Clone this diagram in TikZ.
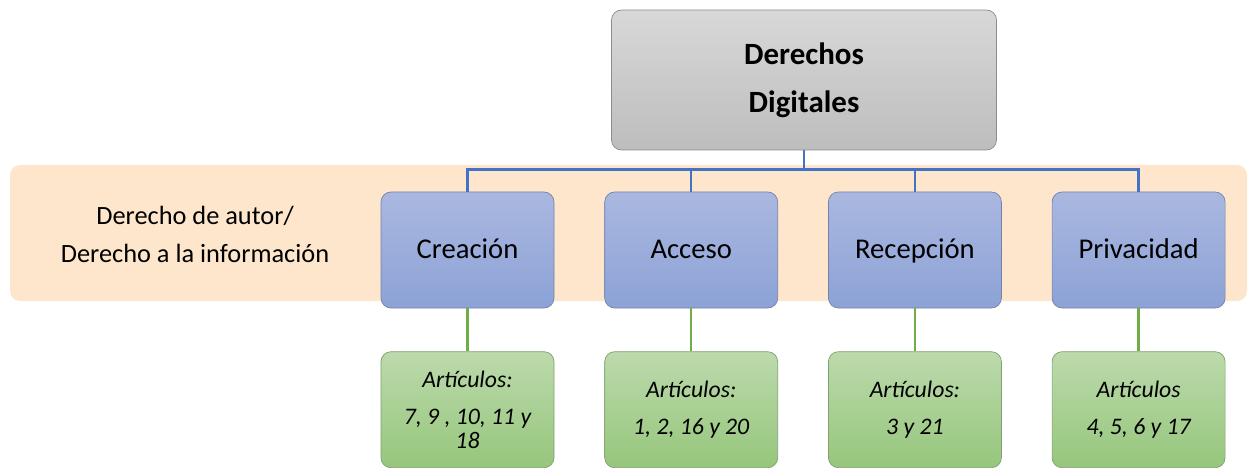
\documentclass[tikz,border=0pt]{standalone}
\usepackage{fontspec}
\setmainfont{Carlito}
\usetikzlibrary{positioning}
\definecolor{bandfill}{RGB}{253,230,204}
\definecolor{graytop}{RGB}{216,216,216}
\definecolor{graybot}{RGB}{189,189,189}
\definecolor{grayedge}{RGB}{140,140,140}
\definecolor{bluetop}{RGB}{170,184,224}
\definecolor{bluebot}{RGB}{140,162,214}
\definecolor{blueedge}{RGB}{118,128,168}
\definecolor{greentop}{RGB}{188,218,172}
\definecolor{greenbot}{RGB}{150,198,124}
\definecolor{greenedge}{RGB}{128,160,110}
\definecolor{busline}{RGB}{68,114,196}
\definecolor{artline}{RGB}{112,173,71}
\tikzset{
  raiz/.style={rectangle, rounded corners=0.2cm, minimum width=7.7cm, minimum height=2.8cm, align=center, draw=grayedge, top color=graytop, bottom color=graybot, font=\bfseries\fontsize{17.6}{27.3}\selectfont},
  area/.style={rectangle, rounded corners=0.2cm, minimum width=3.46cm, minimum height=2.32cm, text height=1.25em, text depth=0.25em, draw=blueedge, top color=bluetop, bottom color=bluebot, font=\fontsize{16.3}{20}\selectfont},
  art/.style={rectangle, rounded corners=0.2cm, minimum width=3.46cm, minimum height=2.32cm, align=center, draw=greenedge, top color=greentop, bottom color=greenbot, font=\itshape\fontsize{13.5}{21}\selectfont},
  bus/.style={color=busline, line width=1.4pt},
  rama/.style={color=artline, line width=1.4pt},
  node distance=1.0cm
}
\begin{document}
\begin{tikzpicture}
	\useasboundingbox (0,0) rectangle (24.98,-9.36);
	% franja de fondo
	\fill[bandfill, rounded corners=0.2cm] (0.2,-3.3) rectangle (24.94,-6.02);
	\node[align=center, font=\fontsize{15}{21.6}\selectfont] (autor) at (3.9,-4.68) {Derecho de autor/\\Derecho a la información};
	%
	\node[raiz] (dd) at (16.08,-1.6) {Derechos\\Digitales};
	\node[area] (crea) at (9.35,-5.0) {Creación};
	\node[area, right=of crea] (acce) {Acceso};
	\node[area, right=of acce] (rece) {Recepción};
	\node[area, right=of rece] (priv) {Privacidad};
	%
	\node[art, below=0.86cm of crea] (artcrea) {Artículos:\\7, 9 , 10, 11 y\\[-7pt]18};
	\node[art, below=0.86cm of acce] (artacce) {Artículos:\\1, 2, 16 y 20};
	\node[art, below=0.86cm of rece] (artrece) {Artículos:\\3 y 21};
	\node[art, below=0.86cm of priv] (artpriv) {Artículos\\4, 5, 6 y 17};
	%
	\draw[bus] (dd.south) -- ++(0,-0.38) coordinate (barra);
	\draw[bus] (barra) -| (crea.north);
	\draw[bus] (barra) -| (acce.north);
	\draw[bus] (barra) -| (rece.north);
	\draw[bus] (barra) -| (priv.north);
	%
	\draw[rama] (crea) -- (artcrea);
	\draw[rama] (acce) -- (artacce);
	\draw[rama] (rece) -- (artrece);
	\draw[rama] (priv) -- (artpriv);
\end{tikzpicture}
\end{document}
